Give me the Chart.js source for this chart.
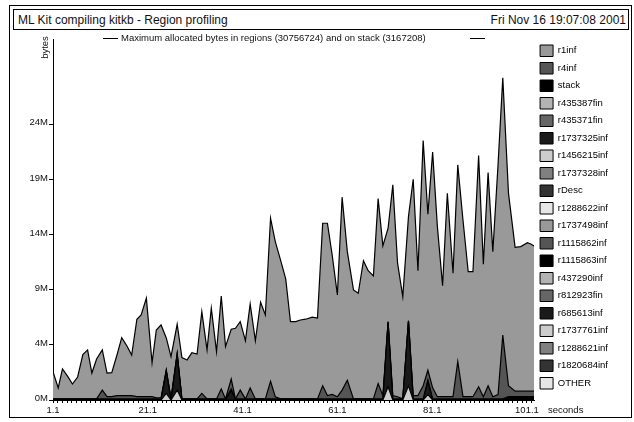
<!DOCTYPE html>
<html>
<head>
<meta charset="utf-8">
<script src="https://cdn.jsdelivr.net/npm/chart.js@4.4.1/dist/chart.umd.min.js"></script>
<style>
  body { margin: 0; background: #fff; font-family: "Liberation Sans", Arial, sans-serif; }
  #wrap { position: relative; width: 634px; height: 422px; }
  #frame { position: absolute; left: 9px; top: 5px; width: 623px; height: 413px; border: 1px solid #000; box-sizing: border-box; }
  #titlebox { position: absolute; left: 13px; top: 9px; width: 616px; height: 21px; border: 1px solid #000; box-sizing: border-box;
              font-size: 12px; line-height: 20px; color: #111; }
  #titlebox .l { position: absolute; left: 4px; top: 0; }
  #titlebox .r { position: absolute; right: 2px; top: 0; }
  canvas { position: absolute; left: 0; top: 0; }
  .small { position: absolute; font-size: 9.5px; color: #111; white-space: nowrap; }
  .dash { position: absolute; height: 0; border-top: 1px solid #000; }
</style>
</head>
<body>
<div id="wrap">
  <div id="frame"></div>
  <div id="titlebox"><span class="l">ML Kit compiling kitkb - Region profiling</span><span class="r">Fri Nov 16 19:07:08 2001</span></div>
  <canvas id="chart" width="634" height="422"></canvas>
  <div class="dash" style="left:103px; top:38px; width:15px;"></div>
  <div class="small" style="left:121px; top:32px;">Maximum allocated bytes in regions (30756724) and on stack (3167208)</div>
  <div class="dash" style="left:470px; top:38px; width:15px;"></div>
  <div class="small" style="left:33px; top:42px; transform: rotate(-90deg); transform-origin: 50% 50%;">bytes</div>
  <div class="small" style="left:548px; top:404px;">seconds</div>
</div>
<script>
// sample times (seconds)
const times = [1.1, 2.2, 3.1, 4.2, 5.2, 6.3, 7.4, 8.4, 9.3, 10.3,
  11.5, 12.5, 13.5, 14.6, 15.6, 16.7, 17.7, 18.8, 19.7, 20.8,
  22.0, 22.9, 23.9, 25.0, 26.0, 27.3, 28.3, 29.4, 30.4, 31.5,
  32.5, 33.6, 34.5, 35.6, 36.6, 37.5, 38.7, 39.6, 40.6, 41.7,
  42.7, 43.8, 44.9, 45.9, 47.0, 48.0, 49.1, 50.2, 51.2, 52.3,
  53.3, 54.4, 55.8, 56.9, 58.0, 59.0, 60.0, 61.1, 62.1, 63.2,
  64.5, 65.5, 66.6, 67.6, 68.7, 69.7, 70.7, 71.8, 72.8, 73.8,
  74.9, 76.1, 77.1, 78.1, 79.2, 80.2, 81.2, 82.2, 83.3, 84.3,
  85.5, 86.5, 87.6, 88.7, 89.7, 90.9, 91.9, 92.9, 93.9, 95.0,
  96.0, 97.2, 98.6, 99.8, 101.2, 101.9, 102.6];

// values in millions of bytes
const r1inf = [2.47, 0.99, 2.72, 2.04, 1.35, 1.99, 4.02, 4.45, 2.35, 3.63,
  3.65, 2.15, 2.18, 3.69, 5.26, 4.51, 3.69, 7.04, 7.43, 8.95,
  3.09, 6.16, 6.62, 2.94, 3.84, 2.68, 3.75, 3.54, 4.20, 4.08,
  7.43, 4.45, 8.24, 4.29, 8.45, 4.75, 4.53, 6.42, 6.22, 5.29,
  7.63, 5.29, 8.78, 7.63, 14.82, 14.09, 12.63, 10.90, 7.02, 7.02,
  7.17, 7.24, 7.42, 7.35, 14.76, 15.66, 12.68, 9.25, 17.53, 11.68,
  9.90, 9.60, 12.56, 11.65, 11.17, 16.80, 13.60, 8.51, 19.15, 12.13,
  9.29, 9.46, 19.66, 11.35, 22.27, 14.18, 21.42, 15.45, 10.09, 18.49,
  11.22, 17.86, 16.06, 11.36, 11.36, 21.01, 12.04, 19.36, 13.18, 20.90,
  23.37, 17.49, 13.08, 13.14, 13.50, 13.38, 13.20];

const r4inf = [0, 0, 0, 0, 0, 0, 0, 0, 0, 0,
  0.8, 0.2, 0.2, 0.3, 0.3, 0.3, 0.3, 0.2, 0.2, 0.2,
  0.2, 0.1, 0.1, 0, 0, 0, 0, 0, 0, 0,
  0.5, 0, 0, 0, 0.9, 0, 0.9, 0, 0.8, 0,
  1.0, 0, 0, 0, 1.6, 0.2, 0, 0, 0, 0,
  0, 0, 0, 0, 1.2, 0.3, 0.4, 0.2, 0.8, 1.7,
  0, 0, 0, 0, 0, 1.4, 0.3, 0, 0.3, 0.2,
  0, 0, 0.3, 0.3, 1.2, 0.9, 1.0, 0.2, 0.2, 0.2,
  0.2, 3.4, 0.2, 0.2, 0.2, 1.1, 0.2, 1.2, 0.2, 0.4,
  5.8, 1.0, 0.5, 0.5, 0.5, 0.5, 0.5];

const stack = [0.1, 0.1, 0.1, 0.1, 0.1, 0.1, 0.1, 0.1, 0.1, 0.1,
  0.1, 0.1, 0.1, 0.1, 0.1, 0.1, 0.1, 0.1, 0.1, 0.1,
  0.1, 0.1, 0.1, 0.1, 0.1, 0.1, 0.1, 0.1, 0.1, 0.1,
  0.1, 0.1, 0.1, 0.1, 0.1, 0.1, 0.1, 0.1, 0.1, 0.1,
  0.1, 0.1, 0.1, 0.1, 0.1, 0.1, 0.1, 0.1, 0.1, 0.1,
  0.1, 0.1, 0.1, 0.1, 0.1, 0.1, 0.1, 0.1, 0.1, 0.1,
  0.1, 0.1, 0.1, 0.1, 0.1, 0.1, 0.1, 0.1, 0.1, 0.1,
  0.1, 0.1, 0.1, 0.1, 0.1, 0.1, 0.1, 0.1, 0.1, 0.1,
  0.1, 0.1, 0.1, 0.1, 0.1, 0.1, 0.1, 0.1, 0.1, 0.1,
  0.1, 0.3, 0.3, 0.3, 0.3, 0.3, 0.3];

const r1737325inf = [0, 0, 0, 0, 0, 0, 0, 0, 0, 0,
  0, 0, 0, 0, 0, 0, 0, 0, 0, 0,
  0, 0, 0, 2.0, 0, 3.2, 0, 0, 0, 0,
  0, 0, 0, 0, 0, 0, 0.9, 0, 0, 0,
  0, 0, 0, 0, 0, 0, 0, 0, 0, 0,
  0, 0, 0, 0, 0, 0, 0, 0, 0, 0,
  0, 0, 0, 0, 0, 0, 0, 5.8, 0, 0,
  0, 5.8, 0, 0, 0, 1.2, 0, 0, 0, 0,
  0, 0, 0, 0, 0, 0, 0, 0, 0, 0,
  0, 0, 0, 0, 0, 0, 0];

const r1456215inf = [0, 0, 0, 0, 0, 0, 0, 0, 0, 0,
  0, 0, 0, 0, 0, 0, 0, 0, 0, 0,
  0, 0, 0, 0.6, 0, 0.9, 0, 0, 0, 0,
  0, 0, 0, 0, 0, 0, 0, 0, 0, 0,
  0, 0, 0, 0, 0, 0, 0, 0, 0, 0,
  0, 0, 0, 0, 0, 0, 0, 0, 0, 0,
  0, 0, 0, 0, 0, 0, 0, 1.2, 0, 0,
  0, 1.3, 0, 0, 0, 0.5, 0, 0, 0, 0,
  0, 0, 0, 0, 0, 0, 0, 0, 0, 0,
  0, 0, 0, 0, 0, 0, 0];

const legendNames = ['r1inf', 'r4inf', 'stack', 'r435387fin', 'r435371fin', 'r1737325inf',
  'r1456215inf', 'r1737328inf', 'rDesc', 'r1288622inf', 'r1737498inf', 'r1115862inf',
  'r1115863inf', 'r437290inf', 'r812923fin', 'r685613inf', 'r1737761inf', 'r1288621inf',
  'r1820684inf', 'OTHER'];
const legendColors = ['#999999', '#555555', '#000000', '#b3b3b3', '#666666', '#1a1a1a',
  '#cccccc', '#808080', '#333333', '#e6e6e6', '#999999', '#555555',
  '#000000', '#b3b3b3', '#666666', '#1a1a1a', '#cccccc', '#808080',
  '#333333', '#e6e6e6'];

const yTickValues = [0, 5, 10, 15, 20, 25];
const yTickLabels = ['0M', '4M', '9M', '14M', '19M', '24M'];
const xTickLabels = ['1.1', '21.1', '41.1', '61.1', '81.1', '101.1'];

function pts(vals) {
  return vals.map((v, i) => ({ x: times[i], y: v }));
}

// bottom of the stack first
const layers = [
  { name: 'r1456215inf', vals: r1456215inf, color: '#cccccc' },
  { name: 'r1737325inf', vals: r1737325inf, color: '#1a1a1a' },
  { name: 'stack', vals: stack, color: '#000000' },
  { name: 'r4inf', vals: r4inf, color: '#555555' },
  { name: 'r1inf', vals: r1inf, color: '#999999' }
];

const smallFont = { family: '"Liberation Sans", Arial, sans-serif', size: 9.5 };

new Chart(document.getElementById('chart').getContext('2d'), {
  type: 'line',
  data: {
    datasets: layers.map((l, i) => ({
      label: l.name,
      data: pts(l.vals),
      backgroundColor: l.color,
      borderColor: '#000',
      borderWidth: 1.2,
      fill: i === 0 ? 'origin' : '-1',
      pointRadius: 0,
      tension: 0
    }))
  },
  options: {
    responsive: false,
    animation: false,
    layout: { padding: { top: 39, left: 0, right: 16, bottom: 0 } },
    plugins: {
      tooltip: { enabled: false },
      legend: {
        position: 'right',
        align: 'start',
        onClick: null,
        labels: {
          boxWidth: 13,
          boxHeight: 11.5,
          padding: 6,
          color: '#111',
          font: smallFont,
          generateLabels: () => legendNames.map((n, i) => ({
            text: n,
            fillStyle: legendColors[i],
            strokeStyle: '#000',
            lineWidth: 1,
            hidden: false,
            index: i
          }))
        }
      }
    },
    scales: {
      x: {
        type: 'linear',
        min: 1.1,
        max: 102.6,
        afterFit: (s) => { s.height = 22; },
        afterBuildTicks: (axis) => {
          const t = [];
          for (let k = 0; k <= 101; k++) t.push({ value: Math.round((1.1 + k) * 10) / 10 });
          axis.ticks = t;
        },
        border: { display: true, color: '#000', width: 1 },
        grid: { drawOnChartArea: false, drawTicks: true, tickLength: 3, color: '#000' },
        ticks: {
          autoSkip: false,
          maxRotation: 0,
          padding: 2,
          color: '#111',
          font: smallFont,
          callback: (v) => xTickLabels.includes(v.toFixed(1)) ? v.toFixed(1) : ''
        }
      },
      y: {
        stacked: true,
        min: 0,
        max: 32.8,
        afterFit: (s) => { s.width = 53; },
        afterBuildTicks: (axis) => { axis.ticks = yTickValues.map(v => ({ value: v })); },
        border: { display: true, color: '#000', width: 1 },
        grid: { drawOnChartArea: false, drawTicks: true, tickLength: 4, color: '#000' },
        ticks: {
          padding: 1,
          labelOffset: -2,
          color: '#111',
          font: smallFont,
          callback: (v, i) => yTickLabels[i]
        }
      }
    }
  }
});
</script>
</body>
</html>
